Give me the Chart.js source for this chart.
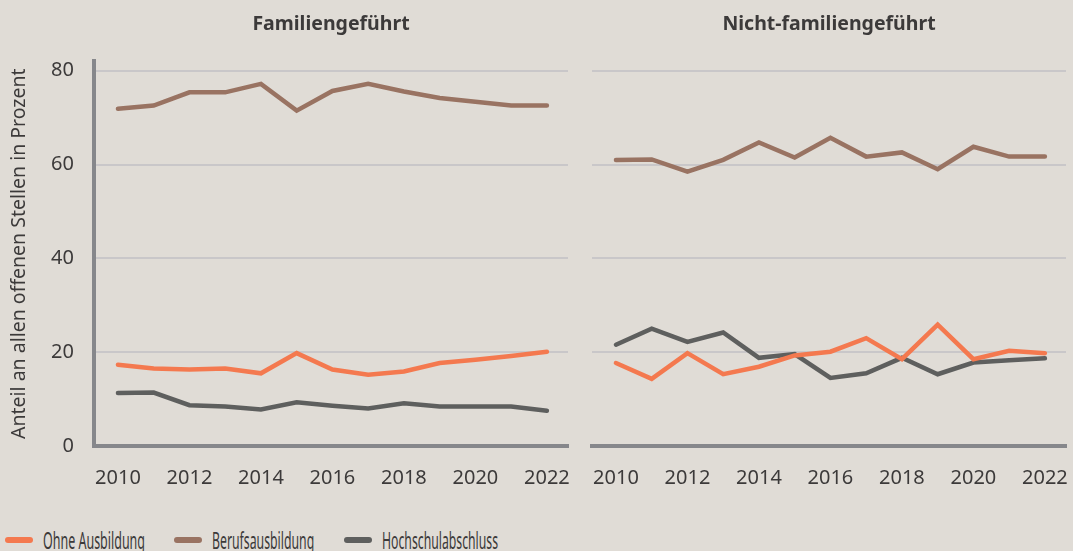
<!DOCTYPE html>
<html>
<head>
<meta charset="utf-8">
<script src="https://cdn.jsdelivr.net/npm/chart.js@4"></script>
<style>
  body { margin: 0; background: #e0dcd6; }
  #wrap { position: relative; width: 1073px; height: 551px; background: #e0dcd6; overflow: hidden; }
  .box { position: absolute; top: 0; height: 500px; }
  #legend { position: absolute; left: 0; top: 525px; height: 30px; width: 1073px; }
  .item { position: absolute; top: 0; height: 30px; }
  .sw { position: absolute; top: 12px; left: 0; width: 28px; height: 6px; border-radius: 3px; }
  .lbl { position: absolute; top: 0; white-space: nowrap; font-family: "Noto Sans"; font-size: 23px; line-height: 30px; color: #3c3a3a; transform-origin: 0 50%; }
</style>
</head>
<body>
<div id="wrap">
  <div class="box" style="left:0;width:580px"><canvas id="famChart"></canvas></div>
  <div class="box" style="left:580px;width:493px"><canvas id="nfChart"></canvas></div>
  <div id="legend"></div>
</div>
<script>
const years = [2010, 2011, 2012, 2013, 2014, 2015, 2016, 2017, 2018, 2019, 2020, 2021, 2022];
const xTicks = [2010, 2012, 2014, 2016, 2018, 2020, 2022];
const yTicks = [0, 20, 40, 60, 80];

const seriesNames = ['Ohne Ausbildung', 'Berufsausbildung', 'Hochschulabschluss'];
const seriesColors = ['#f4794f', '#997362', '#5e5f5e'];

// Familiengeführt
const famOhne  = [17.3, 16.5, 16.3, 16.5, 15.5, 19.8, 16.3, 15.2, 15.9, 17.7, 18.4, 19.2, 20.1];
const famBeruf = [71.9, 72.6, 75.4, 75.4, 77.2, 71.5, 75.7, 77.2, 75.6, 74.2, 73.4, 72.6, 72.6];
const famHoch  = [11.3, 11.4, 8.7, 8.4, 7.8, 9.3, 8.6, 8.0, 9.1, 8.4, 8.4, 8.4, 7.5];

// Nicht-familiengeführt
const nfOhne  = [17.7, 14.3, 19.8, 15.3, 16.9, 19.3, 20.1, 23.0, 18.5, 25.9, 18.5, 20.3, 19.8];
const nfBeruf = [61.0, 61.1, 58.5, 61.0, 64.7, 61.5, 65.7, 61.7, 62.6, 59.0, 63.8, 61.7, 61.7];
const nfHoch  = [21.6, 25.0, 22.2, 24.2, 18.8, 19.6, 14.5, 15.5, 18.8, 15.3, 17.8, 18.3, 18.7];

const textColor = '#3c3a3a';
const axisColor = '#86878b';
const gridColor = '#c9c7c9';
const font = 'Noto Sans';

function makeSets(vals) {
  return vals.map((v, i) => ({
    label: seriesNames[i],
    data: v.map((y, j) => ({ x: years[j], y: y })),
    borderColor: seriesColors[i],
    backgroundColor: seriesColors[i],
    borderWidth: 4.5,
    borderCapStyle: 'round',
    borderJoinStyle: 'miter',
    pointRadius: 0,
    tension: 0
  }));
}

function makeChart(id, title, vals, left) {
  return new Chart(document.getElementById(id), {
    type: 'line',
    data: { datasets: makeSets(vals) },
    options: {
      responsive: true,
      maintainAspectRatio: false,
      animation: false,
      layout: { padding: { left: left ? 8 : 12, right: left ? 12 : 7, top: 0, bottom: 0 } },
      plugins: {
        legend: { display: false },
        tooltip: { enabled: false },
        title: {
          display: true,
          text: title,
          fullSize: false,
          color: textColor,
          font: { family: font, size: 19.5, weight: 'bold' },
          padding: { top: 13, bottom: 25 }
        }
      },
      scales: {
        x: {
          type: 'linear',
          min: 2009.33,
          max: 2022.59,
          afterBuildTicks: s => { s.ticks = xTicks.map(v => ({ value: v })); },
          afterFit: s => { s.height = 54; s.paddingLeft = 0; s.paddingRight = 0; },
          grid: { color: 'transparent', drawTicks: false },
          border: { display: true, color: axisColor, width: 4 },
          ticks: {
            color: textColor,
            font: { family: font, size: 20 },
            padding: 20,
            maxRotation: 0,
            callback: v => String(v)
          }
        },
        y: {
          min: 0,
          max: 82,
          afterBuildTicks: s => { s.ticks = yTicks.map(v => ({ value: v })); },
          afterFit: s => { s.width = left ? 86 : 0; s.paddingTop = 0; s.paddingBottom = 0; },
          grid: { color: gridColor, lineWidth: 2, drawTicks: false },
          border: { display: left, color: axisColor, width: 4 },
          ticks: {
            display: left,
            color: textColor,
            font: { family: font, size: 20 },
            padding: 20
          },
          title: {
            display: left,
            text: 'Anteil an allen offenen Stellen in Prozent',
            color: textColor,
            font: { family: font, size: 19.5 },
            padding: 0
          }
        }
      }
    }
  });
}

makeChart('famChart', 'Familiengeführt', [famOhne, famBeruf, famHoch], true);
makeChart('nfChart', 'Nicht-familiengeführt', [nfOhne, nfBeruf, nfHoch], false);

// legend (labels squeezed to the reference widths)
const legendX = [5, 174, 344];
const legendW = [102, 102, 116];
const legend = document.getElementById('legend');
seriesNames.forEach((name, i) => {
  const item = document.createElement('div');
  item.className = 'item';
  item.style.left = legendX[i] + 'px';
  item.innerHTML = '<div class="sw" style="background:' + seriesColors[i] + '"></div>' +
    '<div class="lbl" style="left:38px">' + name + '</div>';
  legend.appendChild(item);
  const lbl = item.querySelector('.lbl');
  lbl.style.transform = 'scaleX(' + (legendW[i] / lbl.offsetWidth) + ')';
});
</script>
</body>
</html>
